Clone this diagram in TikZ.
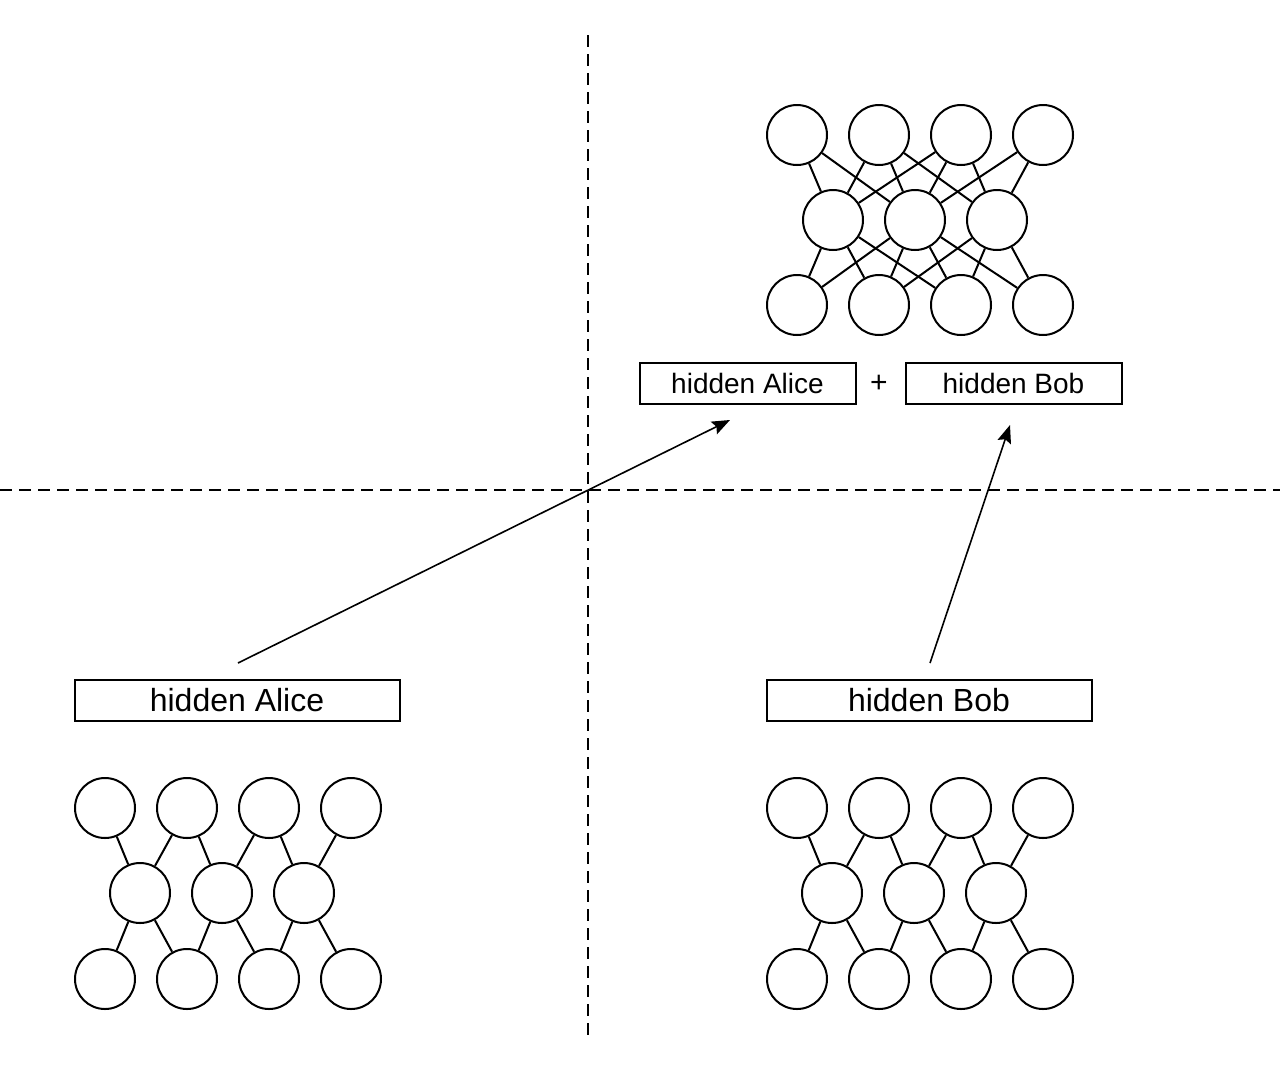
\documentclass[tikz,border=0pt]{standalone}
\usepackage{fontspec}
\setmainfont{Liberation Sans}
\usetikzlibrary{arrows.meta}

\begin{document}
\begin{tikzpicture}[x=1pt, y=-1pt, line width=2pt,
    neuron/.style = {circle, draw, minimum size=60pt, inner sep=0pt},
    hbox/.style = {draw, minimum height=41pt, inner sep=0pt, font=\fontsize{28}{34}\selectfont},
    bighbox/.style = {hbox, minimum width=325pt, font=\fontsize{32}{38}\selectfont},
    split/.style = {dash pattern=on 12pt off 7pt, line width=1.8pt},
    pass/.style = {line width=1.6pt, -{Stealth[length=18pt, width=14pt, inset=3pt]}}]
    \useasboundingbox (0,0) rectangle (1280,1066);

    % dashed quadrant lines
    \coordinate (vtop) at (588,35);
    \coordinate (vbot) at (588,1040);
    \coordinate (hleft) at (0,490);
    \coordinate (hright) at (1280,490);
    \draw[split] (vtop)--(vbot) (hleft)--(hright);

    % merged network (top right)
    \foreach \i in {1,...,4} {
        \node[neuron] (ti\i) at ({715+82*\i},135) {};
        \node[neuron] (to\i) at ({715+82*\i},305) {};
    }
    \foreach \j in {1,2,3}
        \node[neuron] (th\j) at ({751+82*\j},220) {};
    \foreach \j/\i in {1/1,1/2,1/3,2/1,2/2,2/3,2/4,3/2,3/3,3/4}
        \draw (th\j)--(ti\i) (th\j)--(to\i);

    % Alice and Bob networks (bottom)
    \foreach \net/\dx in {a/0,b/692} {
        \foreach \i in {1,...,4} {
            \node[neuron] (\net t\i) at ({23+82*\i+\dx},808) {};
            \node[neuron] (\net o\i) at ({23+82*\i+\dx},979) {};
        }
        \foreach \j in {1,2,3}
            \node[neuron] (\net h\j) at ({58+82*\j+\dx},893) {};
        \foreach \j [evaluate=\j as \k using int(\j+1)] in {1,2,3}
            \draw (\net h\j)--(\net t\j) (\net h\j)--(\net t\k)
                  (\net h\j)--(\net o\j) (\net h\j)--(\net o\k);
    }

    % hidden states
    \node[hbox, minimum width=216pt] (alicetop) at (747.5,383) {hidden Alice};
    \node[font=\fontsize{30}{36}\selectfont] (plus) at (879,384) {+};
    \node[hbox, minimum width=216pt] (bobtop) at (1013.5,383) {hidden Bob};
    \node[bighbox] (alice) at (237,700.5) {hidden Alice};
    \node[bighbox] (bob) at (929,700.5) {hidden Bob};

    % sending the hidden states
    \coordinate (alicesend) at (238,663);
    \coordinate (alicerecv) at (730,420);
    \coordinate (bobsend) at (930,663);
    \coordinate (bobrecv) at (1010,425);
    \draw[pass] (alicesend)--(alicerecv);
    \draw[pass] (bobsend)--(bobrecv);
\end{tikzpicture}
\end{document}
